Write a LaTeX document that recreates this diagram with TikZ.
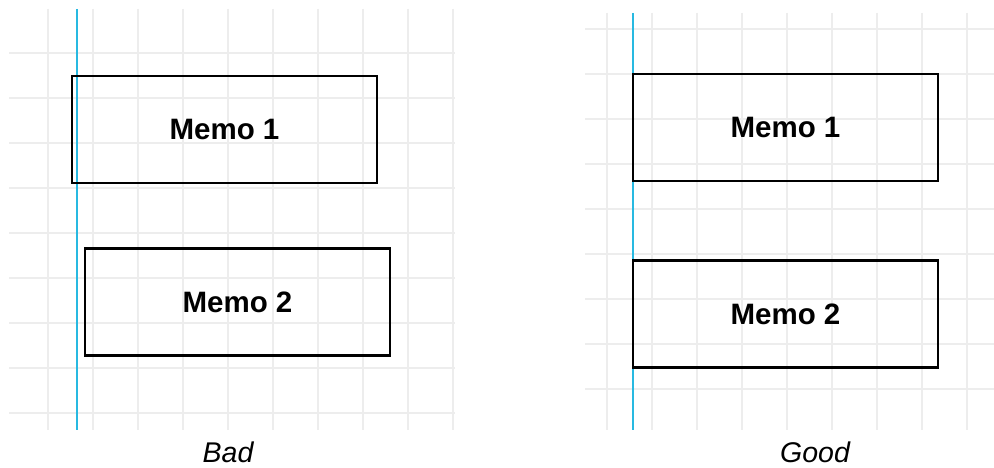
\documentclass[tikz,border=0pt]{standalone}
\usepackage{fontspec}
\setmainfont{Liberation Sans}
\begin{document}
\begin{tikzpicture}[x=1pt,y=-1pt,
  gridline/.style={draw=black!7,line width=1.1pt},
  guide/.style={draw={rgb,255:red,40;green,185;blue,225},line width=1.3pt},
  memo/.style={draw=black,line width=2.6pt,minimum width=305pt,minimum height=107pt,inner sep=0pt,
    font=\fontsize{29.5}{31}\selectfont\bfseries},
  caption/.style={anchor=base,font=\fontsize{28.5}{30}\selectfont\itshape}]
\useasboundingbox (0,0) rectangle (994,468);
\fill[white] (0,0) rectangle (994,468);
% left grid
\foreach \k in {0,...,9} \draw[gridline] ({48+45*\k},9) -- ({48+45*\k},430);
\foreach \k in {0,...,8} \draw[gridline] (9,{53+45*\k}) -- (455,{53+45*\k});
% right grid
\foreach \k in {0,...,8} \draw[gridline] ({607+45*\k},13) -- ({607+45*\k},430);
\foreach \k in {0,...,8} \draw[gridline] (585,{29+45*\k}) -- (994,{29+45*\k});
% guides
\coordinate (gl1) at (77,9); \coordinate (gl2) at (77,430);
\coordinate (gr1) at (633,13); \coordinate (gr2) at (633,430);
\draw[guide] (gl1) -- (gl2);
\draw[guide] (gr1) -- (gr2);
% memos
\node[memo] (b1) at (224.5,129.5) {Memo 1};
\node[memo] (b2) at (237.5,302) {Memo 2};
\node[memo] (g1) at (785.5,127.5) {Memo 1};
\node[memo] (g2) at (785.5,314) {Memo 2};
% captions
\node[caption] (bad) at (228,462) {Bad};
\node[caption] (good) at (815,462) {Good};
\end{tikzpicture}
\end{document}
